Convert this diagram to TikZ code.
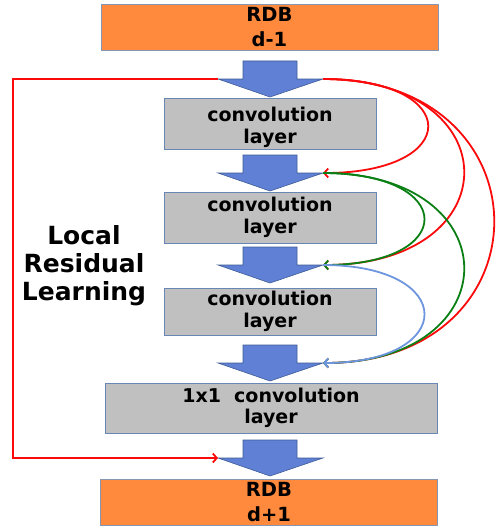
\documentclass[tikz,border=0pt]{standalone}
\usepackage{fontspec}
\setmainfont{DejaVu Sans}
\usetikzlibrary{positioning,arrows.meta}
\definecolor{rdborange}{RGB}{255,137,60}
\definecolor{rdbedge}{RGB}{135,150,178}
\definecolor{layergray}{RGB}{192,192,192}
\definecolor{layeredge}{RGB}{105,135,180}
\definecolor{flowblue}{RGB}{96,128,214}
\definecolor{flowedge}{RGB}{62,92,150}
\definecolor{densered}{RGB}{250,10,10}
\definecolor{densegreen}{RGB}{10,128,20}
\definecolor{denseblue}{RGB}{110,150,222}
\tikzset{
  >={Straight Barb[length=4pt,width=9pt]},
  rdb/.style={draw=rdbedge, fill=rdborange, line width=0.8pt, minimum width=337pt,
    minimum height=44pt, align=center, font=\bfseries\fontsize{19.5}{25}\selectfont},
  layer/.style={draw=layeredge, fill=layergray, line width=0.8pt, minimum width=212pt,
    align=center, font=\bfseries\fontsize{19}{21.5}\selectfont},
  flow/.style={draw=flowedge, fill=flowblue, line width=0.6pt},
  link/.style={->, line width=1.8pt},
}

\begin{document}
\begin{tikzpicture}[x=1pt, y=-1pt]
    \useasboundingbox (0,0) rectangle (496,527);
    % Blocos
    \node[rdb]                        (rdbin)  at (269.5,27)  {RDB\\d-1};
    \node[layer, minimum height=51pt, inner ysep=0pt, text height=44pt, text depth=4.5pt]
                                      (conv1)  at (270,123.5) {convolution\\layer};
    \node[layer, minimum height=51pt] (conv2)  at (270,217.5) {convolution\\layer};
    \node[layer, minimum height=47pt] (conv3)  at (270,311.5) {convolution\\layer};
    \node[layer, minimum height=50pt, minimum width=332pt] (fuse) at (271,408) {1x1~~convolution\\layer};
    \node[rdb, minimum height=45pt]   (rdbout) at (269,502.5) {RDB\\d+1};
    % Setas
    \foreach \t [count=\i] in {61,155,247,345,440} {
      \draw[flow] (243,\t) -- (297,\t) -- (297,\t+18) -- (323,\t+18) -- (270,\t+36)
        -- (218,\t+18) -- (243,\t+18) -- cycle;
      \coordinate (al\i) at (218,\t+18);
      \coordinate (ar\i) at (323,\t+18);
    }
    \node[align=center, font=\bfseries\fontsize{25}{28}\selectfont] (lrl) at (84,266)
      {Local\\Residual\\Learning};
    % Residual
    \draw[link, densered] (al1) -- ++(-205,0) |- (al5);
    % Densas
    \draw[link, densered]   (ar1) .. controls +(140,0) and +(140,0) .. (ar2);
    \draw[link, densered]   (ar1) .. controls +(188,0) and +(188,0) .. (ar3);
    \draw[link, densered]   (ar1) .. controls +(228,0) and +(228,0) .. (ar4);
    \draw[link, densegreen] (ar2) .. controls +(135,0) and +(135,0) .. (ar3);
    \draw[link, densegreen] (ar2) .. controls +(188,0) and +(188,0) .. (ar4);
    \draw[link, denseblue]  (ar3) .. controls +(135,0) and +(135,0) .. (ar4);
\end{tikzpicture}
\end{document}
